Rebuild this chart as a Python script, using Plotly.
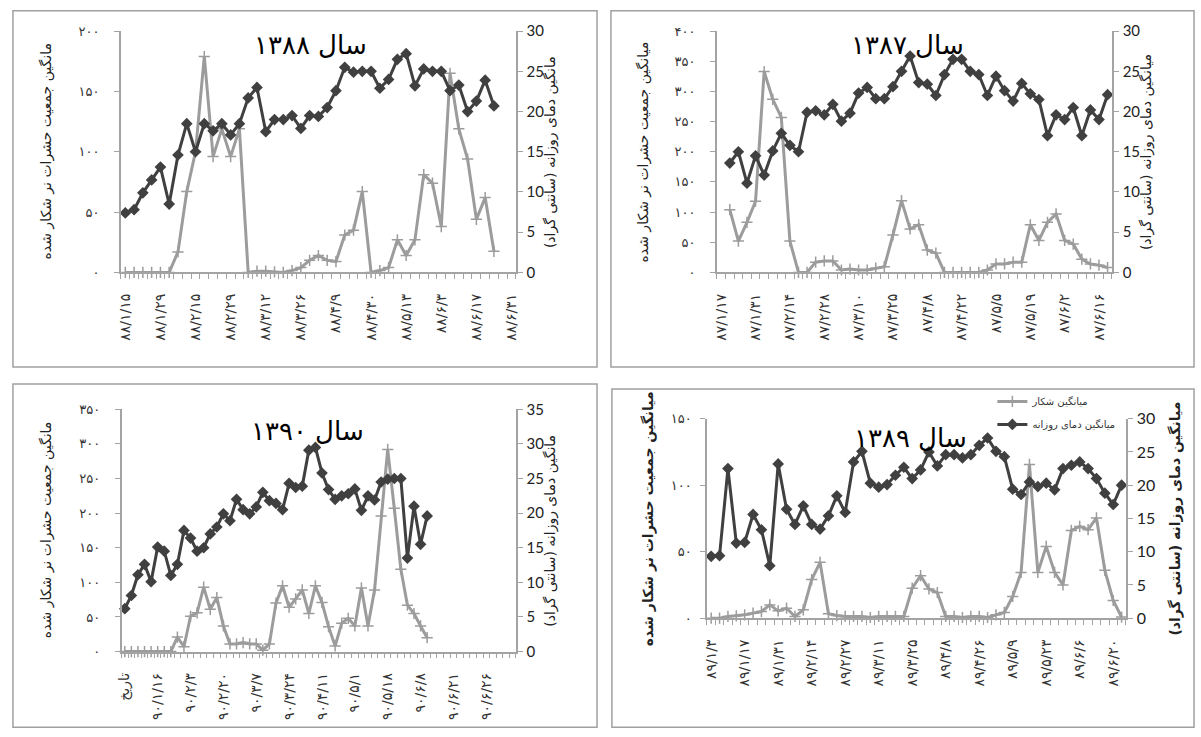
import plotly.graph_objects as go

W, H = 1201, 737
FA = str.maketrans("0123456789", "۰۱۲۳۴۵۶۷۸۹")

# ---------------- data ----------------
# 1388 (top-left)
labels_1388 = ["۸۸/۱/۱۵", "۸۸/۱/۲۹", "۸۸/۲/۱۵", "۸۸/۲/۲۹", "۸۸/۳/۱۲", "۸۸/۳/۲۶",
               "۸۸/۴/۹", "۸۸/۴/۳۰", "۸۸/۵/۱۳", "۸۸/۶/۳", "۸۸/۶/۱۷", "۸۸/۶/۳۱"]
catch_1388 = [0, 0, 0, 0, 0, 0, 17, 67, 100, 179, 96, 119, 96, 119, 0, 1, 1, 0.5, 0, 1.5,
              4, 10, 14, 10, 9, 31, 35, 67, 0, 1.5, 4, 27, 14, 27, 81, 74, 38, 165, 119, 94,
              44, 62, 17.5]
temp_1388 = [7.4, 7.8, 9.9, 11.5, 13.1, 8.5, 14.6, 18.5, 15.0, 18.5, 17.6, 18.5, 17.1, 18.5,
             21.7, 23.0, 17.5, 19.0, 19.0, 19.5, 17.9, 19.5, 19.4, 20.5, 22.6, 25.5, 24.9,
             25.0, 25.0, 22.9, 24.0, 26.5, 27.2, 23.2, 25.3, 25.0, 25.0, 22.6, 23.3, 20.0,
             21.3, 23.9, 20.7]

# 1387 (top-right)
labels_1387 = ["۸۷/۱/۱۷", "۸۷/۱/۳۱", "۸۷/۲/۱۴", "۸۷/۲/۲۸", "۸۷/۳/۱۰", "۸۷/۳/۲۵",
               "۸۷/۴/۸", "۸۷/۴/۲۲", "۸۷/۵/۵", "۸۷/۵/۱۹", "۸۷/۶/۲", "۸۷/۶/۱۶"]
catch_1387 = [104, 52, 83, 118, 333, 287, 257, 52, 0, 0, 17, 19, 19, 4, 5.5, 4, 4, 7, 9.5,
              62, 119, 72, 79, 37, 32, 0, 0, 0, 0, 0, 4, 14, 14, 17, 17, 79, 53, 83, 97, 53,
              47, 22, 14, 12, 8]
temp_1387 = [13.6, 15.0, 11.1, 14.5, 12.1, 15.1, 17.3, 15.8, 15.0, 19.9, 20.1, 19.6, 20.9,
             18.8, 19.8, 22.3, 23.0, 21.6, 21.6, 23.1, 25.0, 26.9, 23.6, 23.4, 22.0, 24.6,
             26.5, 26.5, 25.0, 24.6, 22.0, 24.4, 22.6, 21.3, 23.5, 22.2, 21.5, 17.0, 19.6,
             19.0, 20.5, 17.0, 20.2, 19.0, 22.1]

# 1390 (bottom-left)
labels_1390 = ["تاریخ", "۹۰/۱/۱۶", "۹۰/۲/۳", "۹۰/۲/۲۰", "۹۰/۳/۷", "۹۰/۳/۲۴",
               "۹۰/۴/۱۱", "۹۰/۵/۱", "۹۰/۵/۱۸", "۹۰/۶/۸", "۹۰/۶/۲۱", "۹۰/۶/۲۶"]
catch_1390 = [0, 0, 0, 0, 0, 0, 0, 0, 21, 7, 51, 56, 93, 61, 78, 37, 11, 11, 13, 11, 11, 2,
              11, 70, 95, 64, 76, 89, 55, 95, 71, 36, 8, 41, 48, 37, 92, 37, 89, 196, 292,
              207, 119, 67, 55, 37, 20]
temp_1390 = [6.2, 8.1, 11.1, 12.6, 10.1, 15.1, 14.5, 11.0, 12.6, 17.5, 16.4, 14.5, 15.0,
             17.0, 18.0, 19.9, 18.9, 22.0, 20.5, 19.9, 20.9, 23.0, 21.8, 21.4, 20.5, 24.3,
             23.7, 23.9, 29.1, 29.5, 25.8, 23.4, 22.0, 22.5, 22.8, 23.5, 20.4, 22.5, 21.9,
             24.5, 24.9, 25.0, 25.0, 13.5, 21.0, 15.5, 19.6]

# 1389 (bottom-right)
labels_1389 = ["۸۹/۱/۳", "۸۹/۱/۱۷", "۸۹/۱/۳۱", "۸۹/۲/۱۴", "۸۹/۲/۲۷", "۸۹/۳/۱۱", "۸۹/۳/۲۵",
               "۸۹/۴/۸", "۸۹/۴/۲۶", "۸۹/۵/۹", "۸۹/۵/۲۳", "۸۹/۶/۶", "۸۹/۶/۲۰"]
catch_1389 = [0, 0, 1.3, 1.8, 2.5, 3.8, 5, 10, 5.5, 7.5, 1.3, 6.3, 29, 42, 3.3, 2, 1.3, 1.3,
              1.3, 0.5, 1.3, 1.3, 1.3, 1.3, 22.6, 32, 22, 19.3, 1.3, 1.3, 0.5, 1.3, 1.3, 0.5,
              2.5, 4.3, 16.3, 34.4, 115.6, 34.4, 54, 34.4, 25, 66, 69, 66.6, 75.4, 36, 13.3,
              0.8]
temp_1389 = [9.3, 9.4, 22.5, 11.3, 11.4, 15.6, 13.3, 7.9, 23.2, 16.4, 14.1, 16.9, 14.1, 13.4,
             15.4, 18.4, 15.9, 23.5, 25.1, 20.3, 19.7, 20.1, 21.5, 22.7, 21.0, 22.3, 25.0,
             22.9, 24.6, 24.6, 24.1, 24.6, 26.0, 27.1, 25.1, 24.3, 19.4, 18.6, 20.5, 19.8,
             20.3, 19.3, 22.5, 23.0, 23.5, 22.5, 21.0, 18.8, 17.1, 20.0]

name_catch = "میانگین شکار"
name_temp = "میانگین دمای روزانه"

# ---------------- panel layout (pixel positions in the target picture) ----------------
panels = [
    dict(title="سال ۱۳۸۸", labels=labels_1388, step=4, first=0, ncat=45,
         catch=catch_1388, temp=temp_1388, ymax=200, y2max=30,
         box=(8, 8, 596, 366), plot=(116.7, 31, 514.3, 271.7), tpos=(308, 45),
         ltx=42, rtx=549, lt="مانگین جمعیت حشرات نر شکار شده",
         rt="مانگین دمای روزانه (سانتی گراد)", bold=False, legend=False),
    dict(title="سال ۱۳۸۷", labels=labels_1387, step=4, first=1, ncat=46,
         catch=catch_1387, temp=temp_1387, ymax=400, y2max=30,
         box=(610, 8, 1197, 366), plot=(716.7, 31, 1114.3, 271.7), tpos=(909, 45),
         ltx=643, rtx=1149, lt="میانگین جمعیت حشرات نر شکار شده",
         rt="میانگین دمای روزانه (سانتی گراد)", bold=False, legend=False),
    dict(title="سال ۱۳۹۰", labels=labels_1390, step=5, first=0, ncat=60,
         catch=catch_1390, temp=temp_1390, ymax=350, y2max=35,
         box=(8, 383, 596, 728), plot=(117.3, 408.3, 514.3, 650), tpos=(305, 430),
         ltx=42, rtx=549, lt="مانگین جمعیت حشرات نر شکار شده",
         rt="مانگین دمای روزانه (سانتی گراد)", bold=False, legend=False),
    dict(title="سال ۱۳۸۹", labels=labels_1389, step=4, first=0, ncat=50,
         catch=catch_1389, temp=temp_1389, ymax=150, y2max=30,
         box=(611, 388, 1197, 733), plot=(706.7, 417.7, 1128.3, 616.7), tpos=(912, 437),
         ltx=648, rtx=1178, lt="میانگین جمعیت حشرات نر شکار شده",
         rt="میانگین دمای روزانه (سانتی گراد)", bold=True, legend=True),
]

AX = "#a3a3a3"
GREY = "#9c9c9c"
DARK = "#404040"

# the photographed page is squeezed slightly in height; map target pixels to page pixels
SY, OY = 0.972, 9.9


def px(x):
    return x / W


def py(y):
    yy = (y - OY) / SY
    yy = min(max(yy, 0.8), H - 0.8)
    return 1 - yy / H


fig = go.Figure()
layout = dict(width=W, height=H, margin=dict(l=0, r=0, t=0, b=0), autosize=False,
              paper_bgcolor="white", plot_bgcolor="rgba(0,0,0,0)", shapes=[],
              annotations=[], showlegend=True)

for i, p in enumerate(panels):
    xn = "x" if i == 0 else f"x{i + 1}"
    yl = 2 * i + 1
    yr = 2 * i + 2
    yln = "y" if yl == 1 else f"y{yl}"
    yrn = f"y{yr}"
    xs = [p["first"] + k for k in range(len(p["temp"]))]

    fig.add_trace(go.Scatter(
        x=xs, y=p["catch"], xaxis=xn, yaxis=yln, mode="lines+markers",
        name=name_catch, showlegend=p["legend"], legendgroup="a",
        line=dict(color=GREY, width=3),
        marker=dict(symbol="cross-thin", size=8, color=GREY, line=dict(color=GREY, width=1.5)),
        cliponaxis=False))
    fig.add_trace(go.Scatter(
        x=xs, y=p["temp"], xaxis=xn, yaxis=yrn, mode="lines+markers",
        name=name_temp, showlegend=p["legend"], legendgroup="b",
        line=dict(color=DARK, width=3),
        marker=dict(symbol="diamond", size=9, color=DARK),
        cliponaxis=False))

    x0, y0, x1, y1 = p["plot"]
    tickvals = [k * p["step"] for k in range(len(p["labels"]))]
    layout["xaxis" if i == 0 else f"xaxis{i + 1}"] = dict(
        domain=[px(x0), px(x1)], range=[-0.5, p["ncat"] - 0.5], anchor=yln,
        showline=True, linecolor=AX, linewidth=1.5, showgrid=False, zeroline=False,
        tickmode="array", tickvals=tickvals, ticktext=p["labels"], tickangle=-90,
        ticks="outside", ticklen=5, tickcolor="rgba(0,0,0,0)", ticklabelstandoff=9,
        minor=dict(tickmode="linear", tick0=-0.5, dtick=1, ticks="outside", ticklen=5,
                   tickcolor=AX, tickwidth=1),
        tickfont=dict(family="DejaVu Sans", size=14, color="#333333"), fixedrange=True)
    lticks = list(range(0, p["ymax"] + 1, 50))
    layout["yaxis" if yl == 1 else f"yaxis{yl}"] = dict(
        domain=[py(y1), py(y0)], range=[0, p["ymax"]], anchor=xn,
        showline=True, linecolor=AX, linewidth=1.5, showgrid=False, zeroline=False,
        tickmode="array", tickvals=lticks, ticktext=[str(v).translate(FA) for v in lticks],
        ticks="outside", ticklen=5, tickcolor=AX,
        ticklabelstandoff=6 if p["bold"] else 12,
        tickfont=dict(family="DejaVu Sans", size=13, color="#333333"), fixedrange=True)
    layout[f"yaxis{yr}"] = dict(
        domain=[py(y1), py(y0)], range=[0, p["y2max"]], anchor=xn, overlaying=yln,
        side="right", showline=True, linecolor=AX, linewidth=1.5, showgrid=False,
        zeroline=False, tickmode="linear", tick0=0, dtick=5, ticks="outside", ticklen=5,
        tickcolor=AX, ticklabelstandoff=1,
        tickfont=dict(family="Lato", size=16 if p["bold"] else 15, color="#222222"),
        fixedrange=True)

    bx0, by0, bx1, by1 = p["box"]
    layout["shapes"].append(dict(type="rect", xref="paper", yref="paper",
                                 x0=px(bx0), x1=px(bx1), y0=py(by1), y1=py(by0),
                                 line=dict(color="#a0a0a0", width=1.5)))
    cy = (y0 + y1) / 2
    tfont = "DejaVu Sans"
    layout["annotations"].append(dict(
        text=p["title"], x=px(p["tpos"][0]), y=py(p["tpos"][1]), xref="paper", yref="paper",
        showarrow=False, xanchor="center", yanchor="middle",
        font=dict(family=tfont, size=26, color="black")))
    at = (lambda s: f"<b>{s}</b>") if p["bold"] else (lambda s: s)
    layout["annotations"].append(dict(
        text=at(p["lt"]), x=px(p["ltx"]), y=py(cy), xref="paper", yref="paper",
        showarrow=False, textangle=-90, xanchor="center", yanchor="middle",
        font=dict(family=tfont, size=14, color="#222222")))
    layout["annotations"].append(dict(
        text=at(p["rt"]), x=px(p["rtx"]), y=py(cy), xref="paper", yref="paper",
        showarrow=False, textangle=-90, xanchor="center", yanchor="middle",
        font=dict(family=tfont, size=14, color="#222222")))

layout["legend"] = dict(x=px(994), y=py(386), xanchor="left", yanchor="top",
                        bgcolor="rgba(0,0,0,0)", font=dict(family="DejaVu Sans", size=10,
                                                             color="#333333"),
                        tracegroupgap=4, itemwidth=30)

fig.update_layout(**layout)
fig.write_html(
    "out.html",
    config={"responsive": False, "displayModeBar": False},
    post_script=(
        "var d=document.getElementById('{plot_id}');"
        "document.body.style.margin='0';"
        "d.style.position='fixed';d.style.top='0px';d.style.left='0px';"
        "document.documentElement.style.overflow='hidden';"
        "document.body.style.overflow='hidden';"
    ),
)
